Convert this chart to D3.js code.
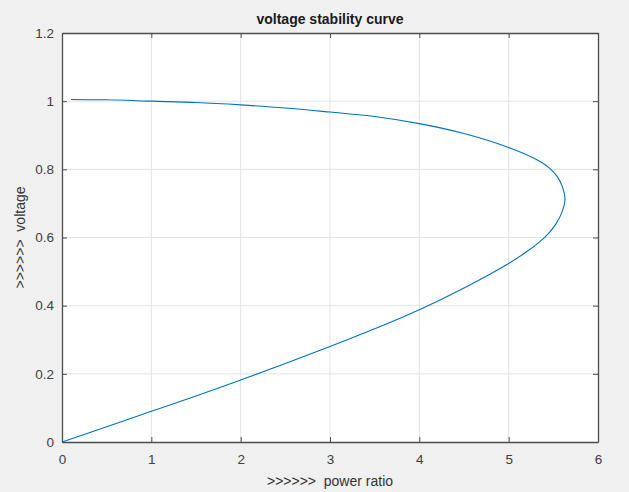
<!DOCTYPE html>
<html>
<head>
<meta charset="utf-8">
<script src="https://cdn.jsdelivr.net/npm/d3@7"></script>
<style>
  body { margin: 0; background: #f0f0f0; }
  svg { display: block; font-family: "Liberation Sans", Arial, sans-serif; }
</style>
</head>
<body>
<div id="chart"></div>
<script>
// Data: upper branch (high voltage), nose, then lower branch
const powerRatio = [0.1, 0.5, 1.0, 1.5, 2.0, 2.5, 3.0, 3.5, 4.0, 4.5, 5.0, 5.3, 5.45, 5.54, 5.6, 5.63,
                    5.59, 5.53, 5.45, 5.35, 5.2, 5.0, 4.5, 4.0, 3.5, 3.0, 2.5, 2.0, 1.5, 1.0, 0.5, 0.0];
const voltage    = [1.005, 1.004, 1.0, 0.996, 0.989, 0.980, 0.968, 0.955, 0.934, 0.905, 0.864, 0.83, 0.805, 0.78, 0.75, 0.71,
                    0.67, 0.64, 0.613, 0.588, 0.558, 0.524, 0.452, 0.388, 0.332, 0.28, 0.23, 0.182, 0.135, 0.09, 0.045, 0.0];
const xTicks = [0, 1, 2, 3, 4, 5, 6];
const yTicks = [0, 0.2, 0.4, 0.6, 0.8, 1, 1.2];

const width = 629;
const height = 492;
const margin = { top: 33, right: 31, bottom: 50, left: 62 };

const svg = d3.select("#chart")
  .append("svg")
  .attr("width", width)
  .attr("height", height);

const x = d3.scaleLinear().domain([0, 6]).range([margin.left, width - margin.right]);
const y = d3.scaleLinear().domain([0, 1.2]).range([height - margin.bottom, margin.top]);

// plot background
svg.append("rect")
  .attr("x", x(0)).attr("y", y(1.2))
  .attr("width", x(6) - x(0)).attr("height", y(0) - y(1.2))
  .attr("fill", "#fff");

// grid
svg.append("g")
  .selectAll("line")
  .data(xTicks.slice(1, -1))
  .join("line")
  .attr("x1", d => x(d)).attr("x2", d => x(d))
  .attr("y1", y(0)).attr("y2", y(1.2))
  .attr("stroke", "#e3e3e3");

svg.append("g")
  .selectAll("line")
  .data(yTicks.slice(1, -1))
  .join("line")
  .attr("x1", x(0)).attr("x2", x(6))
  .attr("y1", d => y(d)).attr("y2", d => y(d))
  .attr("stroke", "#e3e3e3");

// axes (ticks inside, box on all four sides)
const axisColor = "#4d4d4d";
const fmt = d => String(d);

const gx = svg.append("g")
  .attr("transform", `translate(0,${y(0)})`)
  .call(d3.axisBottom(x).tickValues(xTicks).tickFormat(fmt).tickSizeInner(-5).tickSizeOuter(0).tickPadding(12));
const gy = svg.append("g")
  .attr("transform", `translate(${x(0)},0)`)
  .call(d3.axisLeft(y).tickValues(yTicks).tickFormat(fmt).tickSizeInner(-5).tickSizeOuter(0).tickPadding(8));
const gt = svg.append("g")
  .attr("transform", `translate(0,${y(1.2)})`)
  .call(d3.axisTop(x).tickValues(xTicks).tickFormat("").tickSizeInner(-5).tickSizeOuter(0));
const gr = svg.append("g")
  .attr("transform", `translate(${x(6)},0)`)
  .call(d3.axisRight(y).tickValues(yTicks).tickFormat("").tickSizeInner(-5).tickSizeOuter(0));

[gx, gy, gt, gr].forEach(g => {
  g.select(".domain").attr("stroke", axisColor).attr("stroke-width", 1.3);
  g.selectAll(".tick line").attr("stroke", axisColor);
  g.selectAll(".tick text")
    .attr("fill", "#404040")
    .style("font-size", "13.5px")
    .style("font-family", "Liberation Sans, Arial, sans-serif");
});

// curve
const pts = powerRatio.map((p, i) => [p, voltage[i]]);
const line = d3.line()
  .x(d => x(d[0]))
  .y(d => y(d[1]))
  .curve(d3.curveCatmullRom.alpha(0.5));

svg.append("path")
  .datum(pts)
  .attr("fill", "none")
  .attr("stroke", "#0072BD")
  .attr("stroke-width", 1.1)
  .attr("d", line);

// title and labels
svg.append("text")
  .attr("x", (x(0) + x(6)) / 2)
  .attr("y", 24)
  .attr("text-anchor", "middle")
  .attr("font-weight", "bold")
  .attr("font-size", 14)
  .attr("fill", "#1a1a1a")
  .text("voltage stability curve");

svg.append("text")
  .attr("x", (x(0) + x(6)) / 2)
  .attr("y", 486)
  .attr("text-anchor", "middle")
  .attr("font-size", 14)
  .attr("fill", "#333")
  .attr("xml:space", "preserve")
  .style("white-space", "pre")
  .text(">>>>>>  power ratio");

svg.append("text")
  .attr("transform", `translate(25,${(y(0) + y(1.2)) / 2}) rotate(-90)`)
  .attr("text-anchor", "middle")
  .attr("font-size", 14)
  .attr("fill", "#333")
  .attr("xml:space", "preserve")
  .style("white-space", "pre")
  .text(">>>>>>  voltage");
</script>
</body>
</html>
